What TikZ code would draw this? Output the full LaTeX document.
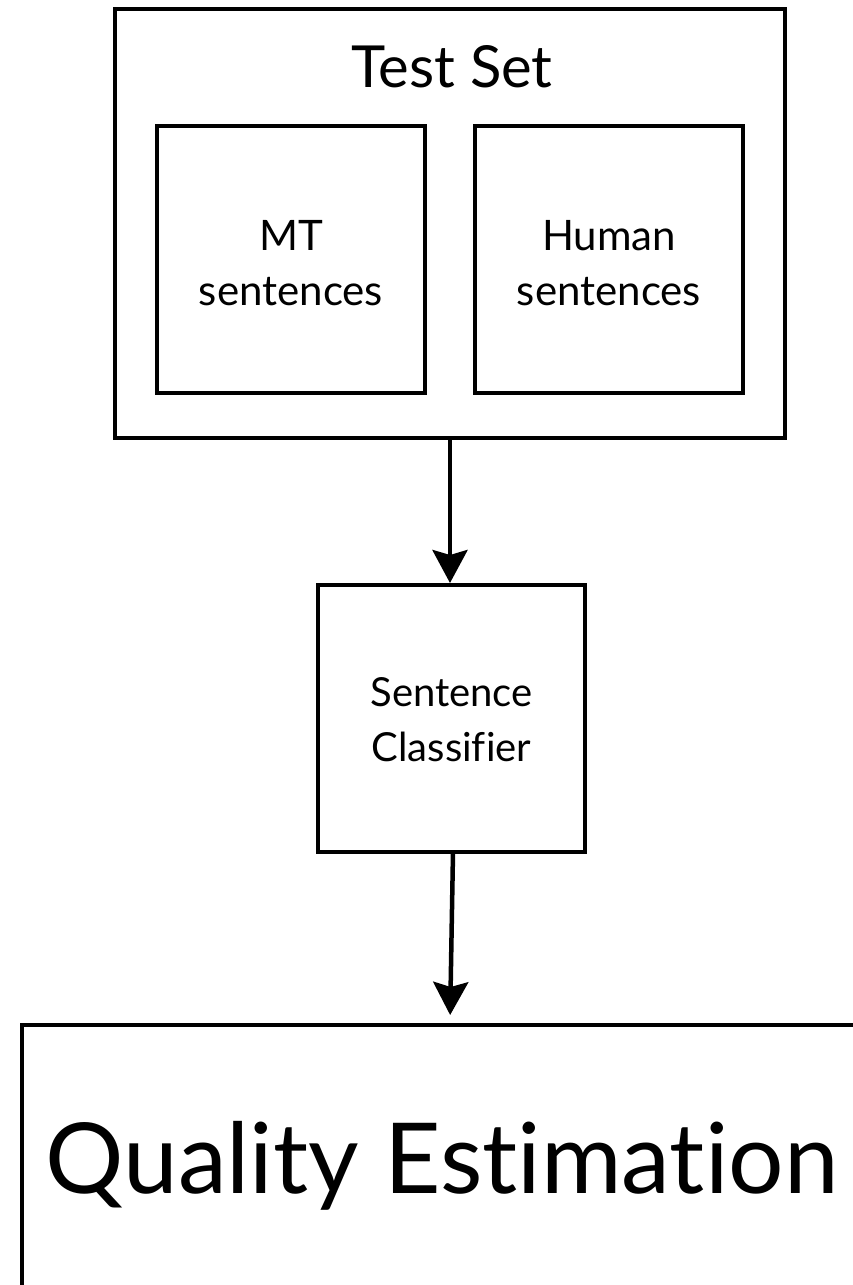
\documentclass[tikz,border=0pt]{standalone}
\usepackage{fontspec}
\setmainfont{Lato}[Ligatures={NoCommon,NoRare}]
\usetikzlibrary{arrows.meta}
\tikzset{
  box/.style={draw=black, line width=4pt, rectangle, inner sep=0pt, fill=white},
  lbl/.style={align=center, inner sep=0pt, text=black},
  arr/.style={line width=4.5pt, -{Stealth[length=33pt,width=35pt,inset=5pt]}},
}
\begin{document}
\begin{tikzpicture}[x=1pt,y=-1pt]
\useasboundingbox (0,0) rectangle (853,1285);
\clip (0,0) rectangle (853,1285);
\fill[white] (0,0) rectangle (853,1285);
% Test set
\node[box, minimum width=670pt, minimum height=429pt] (ts) at (450,223.5) {};
\node[lbl, font=\fontsize{58}{60}\selectfont, anchor=base] (tstxt) at (452,87) {Test Set};
\node[box, minimum width=268pt, minimum height=267pt] (mt) at (291,259.5) {};
\node[box, minimum width=268pt, minimum height=267pt] (hu) at (609,259.5) {};
\node[lbl, font=\fontsize{42}{55}\selectfont] (mttxt) at (291,263) {MT\\sentences};
\node[lbl, font=\fontsize{42}{55}\selectfont] (hutxt) at (609,263) {Human\\sentences};
% Sentence classifier
\node[box, minimum width=267pt, minimum height=267pt] (sc) at (451.5,718.5) {};
\node[lbl, font=\fontsize{40}{55}\selectfont] (sctxt) at (451.5,720) {Sentence\\Classifier};
% Quality estimation
\node[box, minimum width=850pt, minimum height=300pt, anchor=north west] (qe) at (20,1023) {};
\node[lbl, font=\fontsize{98}{100}\selectfont, anchor=base] (qetxt) at (442,1193) {Quality Estimation};
% arrows
\draw[arr] (ts.south) -- (ts.south |- sc.north);
\draw[arr, shorten >=8pt] (453,852) -- (450,1023);
\end{tikzpicture}
\end{document}
